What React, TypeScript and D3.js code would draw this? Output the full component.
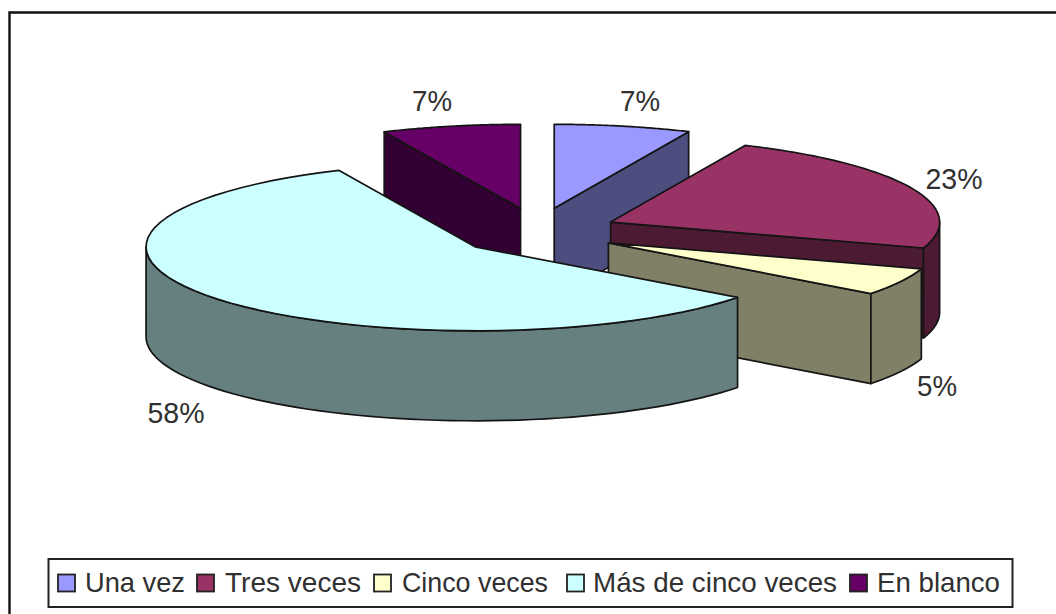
import React from "react";
import * as d3 from "d3";

const categories = ["Una vez", "Tres veces", "Cinco veces", "Más de cinco veces", "En blanco"];
const shares = [6.7, 23.3, 5.3, 57.9, 6.8];
const shareLabels = ["7%", "23%", "5%", "58%", "7%"];
const topColors = ["#9999FF", "#993366", "#FFFFCC", "#CCFFFF", "#660066"];
const sideColors = ["#4D4D80", "#4D1A33", "#808066", "#668080", "#330033"];

const W = 1056, H = 614;
const CX = 537.5, CY = 231.8, RX = 329, RY = 84, EX = 80, EY = 24, DEPTH = 90;
const INK = "#141414";
const TEXT = "#303030";
const FONT = "'Liberation Sans', Arial, sans-serif";
const labelAnchors = [[640, 111], [954, 189], [937, 396], [176, 423], [432, 111]];
const labelWidths = [40, 57, 40, 57, 40];
const legendSwatchX = [58, 197, 374, 567, 850];
const legendTextX = [85, 225, 402, 593, 877];
const legendTextW = [100, 136, 146, 244, 123];

const HALF = Math.PI;
const QUARTER = Math.PI / 2;

const slices = d3.pie<number>().sort(null).value((d) => d)(shares);
const line = d3.line<[number, number]>();

function makeSlice(s: d3.PieArcDatum<number>) {
  const mid = (s.startAngle + s.endAngle) / 2;
  const ax = CX + EX * Math.sin(mid);
  const ay = CY - EY * Math.cos(mid);
  const pt = (a: number, dz = 0): [number, number] => [
    ax + RX * Math.sin(a),
    ay - RY * Math.cos(a) + dz,
  ];
  const arcPts = (a0: number, a1: number, dz = 0) =>
    d3.range(0, 61).map((i) => pt(a0 + ((a1 - a0) * i) / 60, dz));

  const top = line([[ax, ay], ...arcPts(s.startAngle, s.endAngle)]) + "Z";
  const walls: string[] = [];
  const wallOf = (a: number) =>
    line([[ax, ay], pt(a), pt(a, DEPTH), [ax, ay + DEPTH]]) + "Z";
  // A radial wall faces the viewer only on one side of the pie.
  if (s.startAngle > HALF) walls.push(wallOf(s.startAngle));
  if (s.endAngle < HALF) walls.push(wallOf(s.endAngle));

  const a0 = Math.max(s.startAngle, QUARTER);
  const a1 = Math.min(s.endAngle, HALF + QUARTER);
  let outer: string | null = null;
  if (a1 > a0) {
    outer = line([...arcPts(a0, a1), ...arcPts(a0, a1, DEPTH).reverse()]) + "Z";
  }
  return { top, walls, outer };
}

export default function App() {
  const shapes = slices.map((s) => ({ index: s.index, ...makeSlice(s) }));
  const order = [4, 0, 1, 2, 3];
  return (
    <svg
      width={W}
      height={H}
      viewBox={`0 0 ${W} ${H}`}
      style={{ position: "fixed", left: 0, top: 0, background: "#fff" }}
    >
      <path d={`M9.5 ${H}V12.5H${W}`} fill="none" stroke="#111" strokeWidth={2.4} />
      {order.map((i) => {
        const sh = shapes.find((d) => d.index === i)!;
        return (
          <g key={i} stroke={INK} strokeWidth={1.7} strokeLinejoin="round">
            {sh.walls.map((d, j) => (
              <path key={j} d={d} fill={sideColors[i]} />
            ))}
            {sh.outer && <path d={sh.outer} fill={sideColors[i]} />}
            <path d={sh.top} fill={topColors[i]} />
          </g>
        );
      })}
      {shareLabels.map((t, i) => (
        <text
          key={i}
          x={labelAnchors[i][0]}
          y={labelAnchors[i][1]}
          textAnchor="middle"
          fontFamily={FONT}
          fontSize={29}
          fill={TEXT}
          textLength={labelWidths[i]}
          lengthAdjust="spacingAndGlyphs"
        >
          {t}
        </text>
      ))}
      <rect x={48.5} y={559} width={964} height={48} fill="#fff" stroke="#222" strokeWidth={2} />
      {categories.map((c, i) => (
        <g key={c}>
          <rect
            x={legendSwatchX[i]}
            y={574.5}
            width={17}
            height={17}
            fill={topColors[i]}
            stroke="#222"
            strokeWidth={1.8}
          />
          <text
            x={legendTextX[i]}
            y={592}
            fontFamily={FONT}
            fontSize={28.5}
            fill={TEXT}
            textLength={legendTextW[i]}
            lengthAdjust="spacingAndGlyphs"
          >
            {c}
          </text>
        </g>
      ))}
    </svg>
  );
}
